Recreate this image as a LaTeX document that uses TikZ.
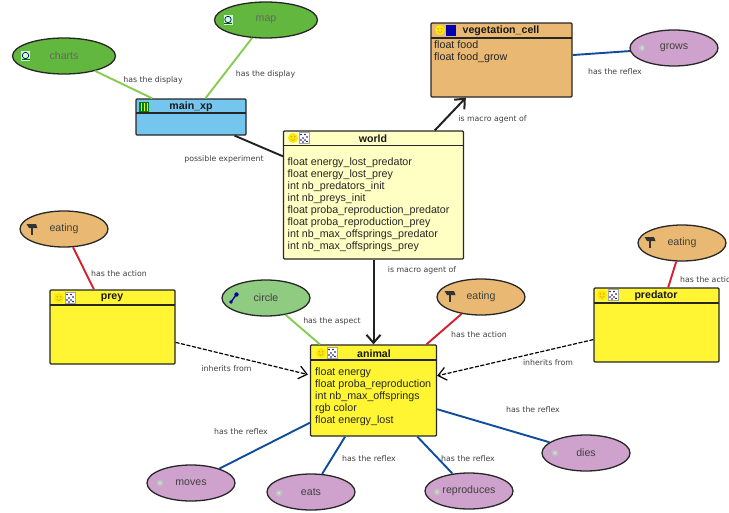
\documentclass[tikz,border=0pt]{standalone}
\usepackage{fontspec}
\setmainfont{Liberation Sans}
\newfontfamily\lblfont{DejaVu Sans}
\usetikzlibrary{arrows.meta,shapes.geometric}
\definecolor{cyel}{HTML}{FFF533}
\definecolor{cpale}{HTML}{FFFFC4}
\definecolor{corg}{HTML}{E9B873}
\definecolor{cblu}{HTML}{74C6EE}
\definecolor{cgrn}{HTML}{62B83E}
\definecolor{clgr}{HTML}{8FCB80}
\definecolor{cpnk}{HTML}{CFA2CE}
\definecolor{ered}{HTML}{D4212C}
\definecolor{ebl}{HTML}{0F4C9C}
\definecolor{egr}{HTML}{86CC4E}
\definecolor{edg}{HTML}{222222}
\tikzset{
  x=1pt,y=-1pt,
  species/.style={draw=black!85,line width=1.3pt,rounded corners=1pt,inner sep=0pt},
  act/.style={draw=black!85,line width=1.3pt,ellipse,minimum width=88pt,minimum height=36pt,inner sep=0pt,font=\fontsize{10.6}{12}\selectfont,text=black!75},
  disp/.style={act,fill=cgrn,minimum width=103pt,text=black!60},
  aspect/.style={act,fill=clgr},
  action/.style={act,fill=corg},
  reflex/.style={act,fill=cpnk},
  lbl/.style={font=\lblfont\fontsize{7.8}{9}\selectfont,text=black!75,inner sep=0pt},
  title/.style={font=\bfseries\fontsize{10.6}{12}\selectfont,inner sep=0pt,text=black!90},
  attrs/.style={font=\fontsize{10.7}{12}\selectfont,inner sep=0pt,align=left,anchor=north west,text=black!85},
  conn/.style={line width=1.9pt},
  inherit/.style={line width=1.2pt,dash pattern=on 4pt off 1.6pt,-{Straight Barb[length=8pt,width=13pt]}},
  macro/.style={line width=2pt,-{Straight Barb[length=8pt,width=14pt]}},
}
\newcommand{\smiley}[2]{\fill[yellow!90!orange] (#1,#2) circle (5pt);
  \fill[black!60] (#1-1.8,#2-1.2) circle (.55pt) (#1+1.8,#2-1.2) circle (.55pt);
  \draw[black!45,line width=.35pt] (#1-2.2,#2+1.4) -- (#1,#2+2.4) -- (#1+2.2,#2+1.4);}
\newcommand{\gridicon}[2]{\fill[white] (#1-5,#2-5.5) rectangle (#1+5,#2+5.5);
  \draw[black!35,line width=.3pt] (#1-5,#2-5.5) rectangle (#1+5,#2+5.5);
  \foreach \a/\b in {-3/-3.5,1/-3.5,3/-1,-1/0,-3/2,1/2,3/3.5,-1/4}{\fill[blue!45!black] (#1+\a,#2+\b) circle (.8pt);}}
\newcommand{\hammer}[2]{\draw[black!80,line width=1.5pt] (#1,#2-3) -- (#1,#2+5);
  \fill[black!80] (#1-5.5,#2-6) -- (#1+4,#2-6) -- (#1+5.5,#2-2) -- (#1-3,#2-2) -- cycle;}
\newcommand{\reflexicon}[2]{\fill[black!25] (#1,#2) circle (3.5pt); \fill[white!85!black] (#1,#2) circle (1.6pt);}
\newcommand{\dispicon}[2]{\fill[white!80!green] (#1-4.5,#2-5) rectangle (#1+4.5,#2+5);
  \draw[blue!50!black,line width=.7pt] (#1,#2-.5) circle (3.2pt);
  \draw[green!40!black,line width=.7pt] (#1-4,#2+3.8) -- (#1+4,#2+3.8);}
\begin{document}
\begin{tikzpicture}
\useasboundingbox (0,0) rectangle (729,512);
% species
\node[species,fill=cblu,minimum width=110pt,minimum height=36pt] (main) at (191,117) {};
\node[species,fill=cpale,minimum width=180pt,minimum height=128pt] (world) at (373.5,195) {};
\node[species,fill=corg,minimum width=141pt,minimum height=74pt] (veg) at (501.5,60) {};
\node[species,fill=cyel,minimum width=125pt,minimum height=74pt] (prey) at (112.5,327) {};
\node[species,fill=cyel,minimum width=126pt,minimum height=91pt] (animal) at (373.5,390.5) {};
\node[species,fill=cyel,minimum width=125pt,minimum height=74pt] (pred) at (656.5,325) {};
% ellipses
\node[disp] (charts) at (64,56) {charts};
\node[disp] (map) at (266,20) {map};
\node[reflex] (grows) at (674,48) {grows};
\node[action] (eat1) at (64,229) {eating};
\node[action] (eat2) at (682,243) {eating};
\node[aspect] (circle) at (266,298) {circle};
\node[action] (eat3) at (481,297) {eating};
\node[reflex] (moves) at (191,483) {moves};
\node[reflex] (eats) at (311,492) {eats};
\node[reflex] (repro) at (469,491) {reproduces};
\node[reflex] (dies) at (586,453) {dies};
% header rules
\draw[black!85,line width=1.3pt] (136,113) -- (246,113) (283.5,145.5) -- (463.5,145.5) (431,38) -- (572,38)
  (50,305) -- (175,305) (310.5,360) -- (436.5,360) (594,303) -- (719,303);
% titles
\node[title] (tmain) at (191,107) {main\_xp};
\node[title] (tworld) at (373,138.5) {world};
\node[title] (tveg) at (501,30.5) {vegetation\_cell};
\node[title] (tprey) at (112,298) {prey};
\node[title] (tanimal) at (374,353.5) {animal};
\node[title] (tpred) at (656,295.5) {predator};
% attributes
\node[attrs] (aworld) at (287.5,157.5) {float energy\_lost\_predator\\float energy\_lost\_prey\\int nb\_predators\_init\\int nb\_preys\_init\\float proba\_reproduction\_predator\\float proba\_reproduction\_prey\\int nb\_max\_offsprings\_predator\\int nb\_max\_offsprings\_prey};
\node[attrs] (aveg) at (434,40.5) {float food\\float food\_grow};
\node[attrs] (aanimal) at (315,368) {float energy\\float proba\_reproduction\\int nb\_max\_offsprings\\rgb color\\float energy\_lost};
% icons
\smiley{293}{138}\gridicon{304}{138}
\smiley{440}{30}\fill[blue!70!black] (446,25) rectangle (456,36);
\smiley{59}{298}\gridicon{70}{298}
\smiley{321}{353}\gridicon{332}{353}
\smiley{602}{295}\gridicon{613}{295}
\fill[green!50!black] (139,102) rectangle (149,112);
\foreach \p in {141,144,147}{\draw[yellow,line width=.4pt] (\p,103) -- (\p,111);}
\dispicon{25.5}{56}\dispicon{228}{20}
\hammer{32}{230}\hammer{450}{297}\hammer{650}{243}
\reflexicon{642}{48}\reflexicon{160}{483}\reflexicon{279}{493}\reflexicon{437}{492}\reflexicon{555}{453}
\draw[blue!60!black,line width=1.3pt] (231,302) -- (236,295); \fill[blue!60!black] (236.5,294.5) circle (2.2pt) (231,302) circle (1.8pt);
% connectors
\draw[conn,egr] (charts) -- (main);
\draw[conn,egr] (map) -- (main);
\draw[conn,edg] (main) -- (world);
\draw[macro,edg] (world) -- (veg);
\draw[macro,edg] (world) -- (animal);
\draw[conn,ebl] (veg) -- (grows);
\draw[conn,ered] (eat1) -- (prey);
\draw[conn,ered] (eat2) -- (pred);
\draw[conn,ered] (eat3) -- (animal);
\draw[conn,egr] (circle) -- (animal);
\draw[inherit,black,shorten >=2pt] (prey) -- (animal);
\draw[inherit,black] (pred) -- (animal);
\draw[conn,ebl] (animal) -- (moves);
\draw[conn,ebl] (animal) -- (eats);
\draw[conn,ebl] (animal) -- (repro);
\draw[conn,ebl] (animal) -- (dies);
% labels
\node[lbl] (l1) at (153,80) {has the display};
\node[lbl] (l2) at (265.5,74) {has the display};
\node[lbl] (l3) at (224,159) {possible experiment};
\node[lbl] (l4) at (492.5,119) {is macro agent of};
\node[lbl] (l5) at (615,71.5) {has the reflex};
\node[lbl] (l6) at (119,274) {has the action};
\node[lbl] (l7) at (332,321) {has the aspect};
\node[lbl] (l8) at (422,270) {is macro agent of};
\node[lbl] (l9) at (479,335) {has the action};
\node[lbl] (l10) at (226.5,369) {inherits from};
\node[lbl] (l11) at (548,363) {inherits from};
\node[lbl] (l12) at (241,432) {has the reflex};
\node[lbl] (l13) at (533,410) {has the reflex};
\node[lbl] (l14) at (369,459) {has the reflex};
\node[lbl] (l15) at (468,459) {has the reflex};
\node[lbl,anchor=west] (l16) at (680,279.5) {has the action};
\end{tikzpicture}
\end{document}
